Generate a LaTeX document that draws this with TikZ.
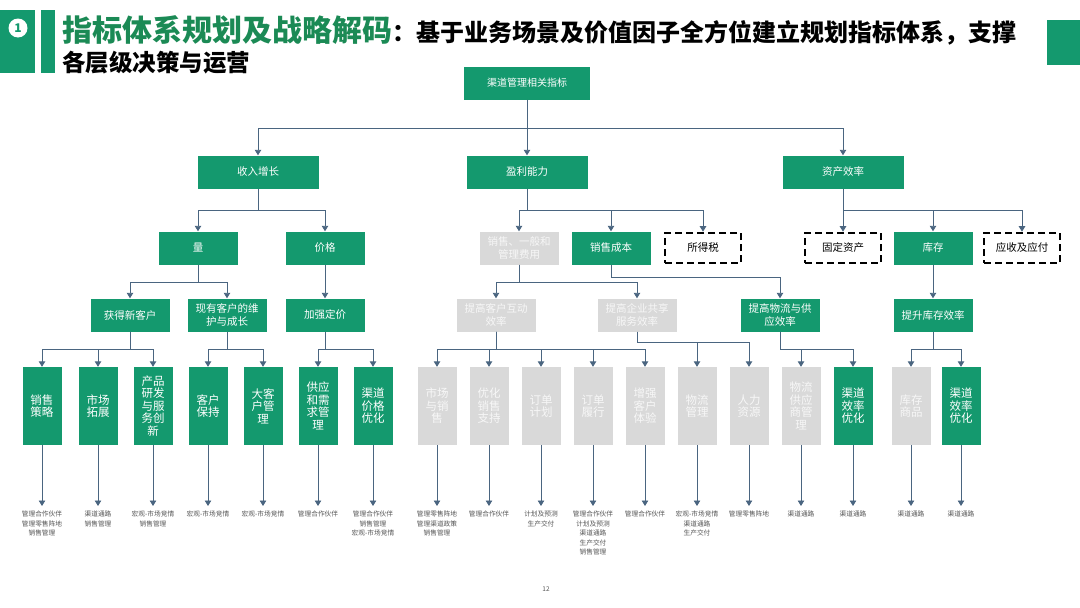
\documentclass[tikz,border=0pt]{standalone}
\usepackage{fontspec}
\setmainfont{Noto Sans CJK SC}
\usetikzlibrary{positioning,arrows.meta}
\definecolor{boxgreen}{HTML}{14996E}
\definecolor{titlegreen}{HTML}{1B8A55}
\definecolor{boxgray}{HTML}{D9D9D9}
\definecolor{linkblue}{HTML}{4A6580}
\definecolor{notegray}{HTML}{555555}

\begin{document}
\begin{tikzpicture}[
    x=1pt, y=-1pt,
    every node/.style={align=center, inner sep=1pt},
    gbox/.style={fill=boxgreen, text=white, minimum width=79pt, minimum height=33pt,
        font=\fontsize{10.5}{12.5}\selectfont},
    topbox/.style={gbox, minimum width=121pt},
    graybox/.style={gbox, fill=boxgray, text=white!94!gray},
    dashbox/.style={gbox, fill=white, text=black, draw=black, line width=2.6pt,
        dash pattern=on 7pt off 4pt, minimum width=76pt, minimum height=30pt},
    colbox/.style={fill=boxgreen, text=white, minimum width=39pt, minimum height=78pt,
        font=\fontsize{11.5}{12.5}\selectfont},
    colgray/.style={colbox, fill=boxgray, text=white!94!gray},
    note/.style={anchor=north, inner sep=0pt, text=notegray, font=\fontsize{6.7}{9.5}\selectfont},
    arr/.style={draw=linkblue, line width=0.9pt, -{Triangle[width=6.5pt,length=5.5pt]}}
]
\useasboundingbox (0,0) rectangle (1080,608);

% title
\fill[boxgreen] (0,10) rectangle (35,73);
\fill[boxgreen] (41,10) rectangle (55,73);
\node[circle, fill=white, minimum size=19pt, inner sep=0pt, text=boxgreen,
    font=\fontsize{12}{12}\selectfont\bfseries] (num) at (18,28) {1};
\fill[boxgreen] (1047,20) rectangle (1080,65);
\node[anchor=base west, inner sep=0pt] (title) at (62,41)
    {{\color{titlegreen}\fontsize{30}{30}\selectfont\bfseries 指标体系规划及战略解码}%
     {\fontsize{24}{24}\selectfont\bfseries ：基于业务场景及价值因子全方位建立规划指标体系，支撑}};
\node[anchor=base west, inner sep=0pt, font=\fontsize{23.5}{23.5}\selectfont\bfseries]
    (title2) at (62,71) {各层级决策与运营};

% level 0 and 1
\node[topbox, minimum width=126pt, font=\fontsize{10}{12}\selectfont] (root) at (527,83) {渠道管理相关指标};
\node[topbox] (inc) at (258,172) {收入增长};
\node[topbox] (prof) at (527,172) {盈利能力};
\node[topbox] (asset) at (843,172) {资产效率};

% level 2
\node[gbox] (vol) at (198,248) {量};
\node[gbox] (price) at (325,248) {价格};
\node[graybox] (sga) at (519,248) {销售、一般和\\管理费用};
\node[gbox] (cogs) at (611,248) {销售成本};
\node[dashbox] (tax) at (703,248) {所得税};
\node[dashbox] (fixed) at (843,248) {固定资产};
\node[gbox] (stock) at (933,248) {库存};
\node[dashbox] (recv) at (1022,248) {应收及应付};

% level 3
\node[gbox] (newc) at (130,315) {获得新客户};
\node[gbox] (keep) at (227,315) {现有客户的维\\护与成长};
\node[gbox] (pricing) at (325,315) {加强定价};
\node[graybox] (interact) at (496,315) {提高客户互动\\效率};
\node[graybox] (shared) at (637,315) {提高企业共享\\服务效率};
\node[gbox] (logi) at (780,315) {提高物流与供\\应效率};
\node[gbox] (stockeff) at (933,315) {提升库存效率};

% level 4
\node[colbox] (c1) at (42,406) {销售\\策略};
\node[colbox] (c2) at (98,406) {市场\\拓展};
\node[colbox] (c3) at (153,406) {产品\\研发\\与服\\务创\\新};
\node[colbox] (c4) at (208,406) {客户\\保持};
\node[colbox] (c5) at (263,406) {大客\\户管\\理};
\node[colbox] (c6) at (318,406) {供应\\和需\\求管\\理};
\node[colbox] (c7) at (373,406) {渠道\\价格\\优化};
\node[colgray] (c8) at (437,406) {市场\\与销\\售};
\node[colgray] (c9) at (489,406) {优化\\销售\\支持};
\node[colgray] (c10) at (541,406) {订单\\计划};
\node[colgray] (c11) at (593,406) {订单\\履行};
\node[colgray] (c12) at (645,406) {增强\\客户\\体验};
\node[colgray] (c13) at (697,406) {物流\\管理};
\node[colgray] (c14) at (749,406) {人力\\资源};
\node[colgray] (c15) at (801,406) {物流\\供应\\商管\\理};
\node[colbox] (c16) at (853,406) {渠道\\效率\\优化};
\node[colgray] (c17) at (911,406) {库存\\商品};
\node[colbox] (c18) at (961,406) {渠道\\效率\\优化};

% notes under the columns
\node[note] (t1) at (42,511) {管理合作伙伴\\管理零售阵地\\销售管理};
\node[note] (t2) at (98,511) {渠道通路\\销售管理};
\node[note] (t3) at (153,511) {宏观-市场竞情\\销售管理};
\node[note] (t4) at (208,511) {宏观-市场竞情};
\node[note] (t5) at (263,511) {宏观-市场竞情};
\node[note] (t6) at (318,511) {管理合作伙伴};
\node[note] (t7) at (373,511) {管理合作伙伴\\销售管理\\宏观-市场竞情};
\node[note] (t8) at (437,511) {管理零售阵地\\管理渠道政策\\销售管理};
\node[note] (t9) at (489,511) {管理合作伙伴};
\node[note] (t10) at (541,511) {计划及预测\\生产交付};
\node[note] (t11) at (593,511) {管理合作伙伴\\计划及预测\\渠道通路\\生产交付\\销售管理};
\node[note] (t12) at (645,511) {管理合作伙伴};
\node[note] (t13) at (697,511) {宏观-市场竞情\\渠道通路\\生产交付};
\node[note] (t14) at (749,511) {管理零售阵地};
\node[note] (t15) at (801,511) {渠道通路};
\node[note] (t16) at (853,511) {渠道通路};
\node[note] (t17) at (911,511) {渠道通路};
\node[note] (t18) at (961,511) {渠道通路};

\node[text=notegray, font=\fontsize{6.5}{7}\selectfont] (page) at (546,589) {12};

% bus heights
\coordinate (bus0) at (0,128);
\coordinate (bus1) at (0,210);
\coordinate (bus2) at (0,282);
\coordinate (bus2b) at (0,277);
\coordinate (bus3) at (0,349);
\coordinate (bus3b) at (0,342);

% connectors
\draw[arr] (root.south) -- (root.south |- bus0) -| (inc.north);
\draw[arr] (root.south) -- (prof.north);
\draw[arr] (root.south) -- (root.south |- bus0) -| (asset.north);

\draw[arr] (inc.south) -- (inc.south |- bus1) -| (vol.north);
\draw[arr] (inc.south) -- (inc.south |- bus1) -| (price.north);
\draw[arr] (prof.south) -- (prof.south |- bus1) -| (sga.north);
\draw[arr] (prof.south) -- (prof.south |- bus1) -| (cogs.north);
\draw[arr] (prof.south) -- (prof.south |- bus1) -| (tax.north);
\draw[arr] (asset.south) -- (fixed.north);
\draw[arr] (asset.south) -- (asset.south |- bus1) -| (stock.north);
\draw[arr] (asset.south) -- (asset.south |- bus1) -| (recv.north);

\draw[arr] (vol.south) -- (vol.south |- bus2) -| (newc.north);
\draw[arr] (vol.south) -- (vol.south |- bus2) -| (keep.north);
\draw[arr] (price.south) -- (pricing.north);
\draw[arr] (sga.south) -- (sga.south |- bus2) -| (interact.north);
\draw[arr] (sga.south) -- (sga.south |- bus2) -| (shared.north);
\draw[arr] (cogs.south) -- (cogs.south |- bus2b) -| (logi.north);
\draw[arr] (stock.south) -- (stockeff.north);

\draw[arr] (newc.south) -- (newc.south |- bus3) -| (c1.north);
\draw[arr] (newc.south) -- (newc.south |- bus3) -| (c2.north);
\draw[arr] (newc.south) -- (newc.south |- bus3) -| (c3.north);
\draw[arr] (keep.south) -- (keep.south |- bus3) -| (c4.north);
\draw[arr] (keep.south) -- (keep.south |- bus3) -| (c5.north);
\draw[arr] (pricing.south) -- (pricing.south |- bus3) -| (c6.north);
\draw[arr] (pricing.south) -- (pricing.south |- bus3) -| (c7.north);
\draw[arr] (interact.south) -- (interact.south |- bus3) -| (c8.north);
\draw[arr] (interact.south) -- (interact.south |- bus3) -| (c9.north);
\draw[arr] (interact.south) -- (interact.south |- bus3) -| (c10.north);
\draw[arr] (interact.south) -- (interact.south |- bus3) -| (c11.north);
\draw[arr] (interact.south) -- (interact.south |- bus3) -| (c12.north);
\draw[arr] (shared.south) -- (shared.south |- bus3b) -| (c13.north);
\draw[arr] (shared.south) -- (shared.south |- bus3b) -| (c14.north);
\draw[arr] (logi.south) -- (logi.south |- bus3) -| (c15.north);
\draw[arr] (logi.south) -- (logi.south |- bus3) -| (c16.north);
\draw[arr] (stockeff.south) -- (stockeff.south |- bus3) -| (c17.north);
\draw[arr] (stockeff.south) -- (stockeff.south |- bus3) -| (c18.north);

\foreach \i in {1,...,18} {
    \draw[arr, shorten >=5pt] (c\i.south) -- (t\i.north);
}
\end{tikzpicture}
\end{document}
